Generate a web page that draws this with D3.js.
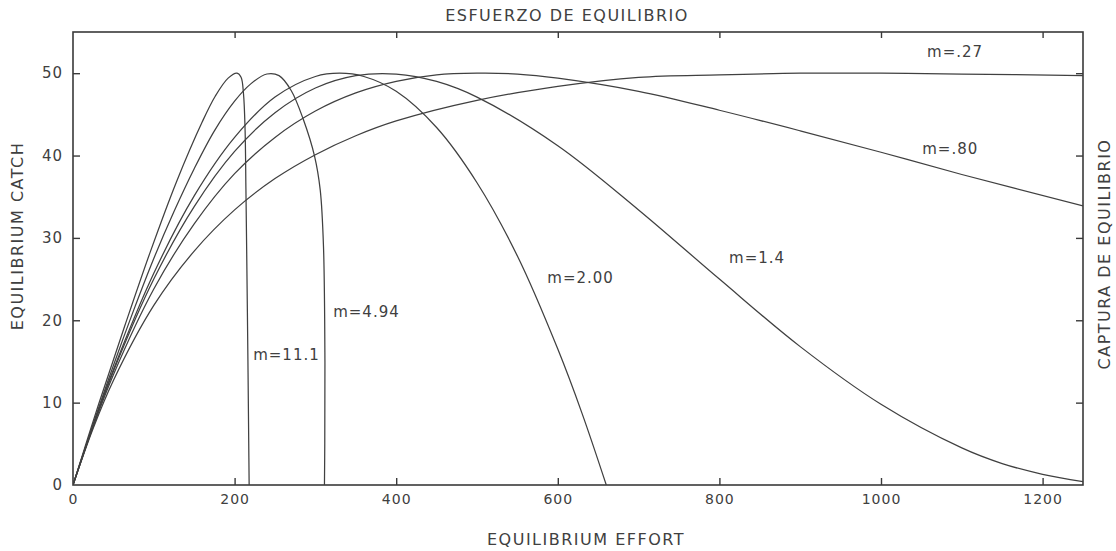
<!DOCTYPE html>
<html>
<head>
<meta charset="utf-8">
<script src="https://cdn.jsdelivr.net/npm/d3@7"></script>
<style>
  body { margin: 0; background: #fff; }
  svg { display: block; font-family: "DejaVu Sans", sans-serif; }
  .frame { fill: none; stroke: #3a3a3a; stroke-width: 1.6; }
  .axis path { display: none; }
  .axis line { stroke: #3a3a3a; stroke-width: 1.4; }
  .axis text { fill: #404040; font-family: "DejaVu Sans", sans-serif; letter-spacing: 1px; }
  .x.axis text { font-size: 14px; }
  .y.axis text { font-size: 15px; }
  .curve { fill: none; stroke: #404040; stroke-width: 1.25; }
  .label { fill: #404040; font-size: 15px; letter-spacing: 1px; }
  .title { fill: #404040; font-size: 16px; letter-spacing: 1.5px; }
</style>
</head>
<body>
<svg width="1116" height="551"></svg>
<script>
// equilibrium catch vs equilibrium effort, one curve per value of m
const effort027 = [0, 25, 50, 100, 150, 200, 250, 300, 350, 400, 500, 600, 700, 800, 900, 1000, 1100, 1250];
const catch027  = [0, 6.9, 12.7, 21.8, 28.4, 33.4, 37.2, 40.1, 42.4, 44.2, 46.7, 48.4, 49.5, 49.8, 50.0, 50.0, 49.9, 49.7];

const effort080 = [0, 25, 50, 100, 150, 200, 250, 300, 350, 400, 450, 500, 550, 600, 700, 800, 900, 1000, 1100, 1250];
const catch080  = [0, 7.1, 13.4, 23.8, 31.7, 37.8, 42.2, 45.4, 47.6, 49.0, 49.8, 50.0, 49.9, 49.4, 47.8, 45.5, 43.0, 40.4, 37.7, 33.9];

const effort140 = [0, 25, 50, 100, 150, 200, 250, 300, 350, 400, 450, 500, 600, 700, 800, 900, 1000, 1100, 1150, 1200, 1250];
const catch140  = [0, 7.2, 13.8, 25.0, 33.8, 40.5, 45.2, 48.2, 49.7, 49.9, 49.0, 47.1, 41.2, 33.4, 25.0, 16.8, 9.8, 4.5, 2.6, 1.3, 0.4];

const effort200 = [0, 25, 50, 100, 150, 200, 250, 300, 330, 360, 400, 450, 500, 550, 600, 630, 660];
const catch200  = [0, 7.3, 14.0, 25.7, 35.1, 42.2, 47.1, 49.6, 50.0, 49.6, 47.8, 43.4, 36.7, 27.8, 16.5, 8.7, 0];

const effort494 = [0, 25, 50, 75, 100, 125, 150, 175, 200, 220, 240, 255, 270, 285, 299, 306, 310, 311.8, 311.6, 311.2];
const catch494  = [0, 7.4, 14.5, 21.2, 27.5, 33.2, 38.4, 43.0, 46.6, 48.7, 49.9, 49.7, 47.9, 44.4, 39.9, 35.8, 29, 15, 5, 0];

const effort111 = [0, 32, 64, 96, 128, 160, 176, 192, 203, 208, 211, 213, 214, 215, 216.5, 217.5, 218];
const catch111  = [0, 9.9, 19.3, 28.4, 36.8, 44.1, 47.2, 49.4, 50.0, 49.5, 47.5, 43, 36, 28, 15, 5, 0];

// curve labels
const labelText   = ["m=.27", "m=.80", "m=1.4", "m=2.00", "m=4.94", "m=11.1"];
const labelEffort = [1057, 1051, 812, 587, 322, 223];
const labelCatch  = [52.0, 40.2, 27.0, 24.5, 20.4, 15.2];

// ticks
const effortTicks = [0, 200, 400, 600, 800, 1000, 1200];
const catchTicks = [0, 10, 20, 30, 40, 50];

const margin = {top: 32, right: 33, bottom: 66, left: 73};

const svg = d3.select("svg");
const width = +svg.attr("width") - margin.left - margin.right;
const height = +svg.attr("height") - margin.top - margin.bottom;

const vis = svg.append("g")
  .attr("transform", `translate(${margin.left},${margin.top})`);

const x = d3.scaleLinear().domain([0, 1250]).range([0, width]);
const y = d3.scaleLinear().domain([0, 55]).range([height, 0]);

// axes, ticks pointing inward
const xAxis = vis.append("g")
  .attr("class", "x axis")
  .attr("transform", `translate(0,${height})`)
  .call(d3.axisBottom(x).tickValues(effortTicks).tickFormat(d3.format("d"))
    .tickSizeInner(-7).tickSizeOuter(0).tickPadding(9));
xAxis.selectAll(".tick").filter(d => d === 0).select("line").remove();

vis.append("g")
  .attr("class", "x axis")
  .call(d3.axisTop(x).tickValues(effortTicks.slice(1)).tickFormat("")
    .tickSizeInner(-6).tickSizeOuter(0));

const yAxis = vis.append("g")
  .attr("class", "y axis")
  .call(d3.axisLeft(y).tickValues(catchTicks).tickFormat(d3.format("d"))
    .tickSizeInner(-7).tickSizeOuter(0).tickPadding(10));
yAxis.selectAll(".tick").filter(d => d === 0).select("line").remove();

vis.append("g")
  .attr("class", "y axis")
  .attr("transform", `translate(${width},0)`)
  .call(d3.axisRight(y).tickValues(catchTicks.slice(1)).tickFormat("")
    .tickSizeInner(-7).tickSizeOuter(0));

vis.append("rect")
  .attr("class", "frame")
  .attr("width", width)
  .attr("height", height);

// curves
vis.append("clipPath").attr("id", "clip")
  .append("rect").attr("width", width).attr("height", height);

const series = [
  d3.zip(effort027, catch027),
  d3.zip(effort080, catch080),
  d3.zip(effort140, catch140),
  d3.zip(effort200, catch200),
  d3.zip(effort494, catch494),
  d3.zip(effort111, catch111)
];

const line = d3.line()
  .x(d => x(d[0]))
  .y(d => y(d[1]))
  .curve(d3.curveCatmullRom.alpha(0.5));

vis.append("g")
  .attr("clip-path", "url(#clip)")
  .selectAll("path")
  .data(series)
  .enter()
  .append("path")
  .attr("class", "curve")
  .attr("d", line);

vis.append("g")
  .selectAll("text")
  .data(labelText)
  .enter()
  .append("text")
  .attr("class", "label")
  .attr("x", (d, i) => x(labelEffort[i]))
  .attr("y", (d, i) => y(labelCatch[i]))
  .text(d => d);

// titles
svg.append("text")
  .attr("class", "title")
  .attr("x", 567)
  .attr("y", 21)
  .attr("text-anchor", "middle")
  .text("ESFUERZO DE EQUILIBRIO");

svg.append("text")
  .attr("class", "title")
  .attr("x", 586)
  .attr("y", 545)
  .attr("text-anchor", "middle")
  .text("EQUILIBRIUM EFFORT");

svg.append("text")
  .attr("class", "title")
  .attr("transform", "translate(23,236) rotate(-90)")
  .attr("text-anchor", "middle")
  .text("EQUILIBRIUM CATCH");

svg.append("text")
  .attr("class", "title")
  .attr("transform", "translate(1110,254) rotate(-90)")
  .attr("text-anchor", "middle")
  .text("CAPTURA DE EQUILIBRIO");
</script>
</body>
</html>
